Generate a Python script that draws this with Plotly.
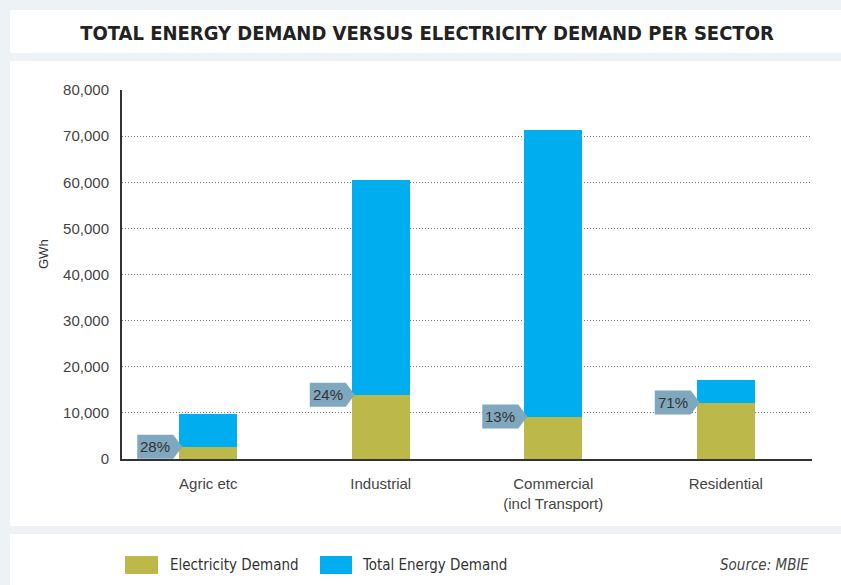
import plotly.graph_objects as go

# ---- data ----
sectors = ["Agric etc", "Industrial", "Commercial<br>(incl Transport)", "Residential"]
total_energy = [9730, 60500, 71300, 17190]
electricity = [2680, 13950, 9200, 12250]
share_labels = ["28%", "24%", "13%", "71%"]
series_names = ["Electricity Demand", "Total Energy Demand"]
series_colors = ["#BDB84A", "#00AEEF"]
y_ticks = [0, 10000, 20000, 30000, 40000, 50000, 60000, 70000, 80000]

# ---- layout constants ----
W, H = 841, 585
L, R, T, B = 122, 29, 90, 126
PW, PH = W - L - R, H - T - B
BAR_W = 0.336
BG = "#EDF2F6"
CALLOUT = "#7FA7BE"
NARROW = "Liberation Sans Narrow, DejaVu Sans Condensed, Arial Narrow, sans-serif"
SANS = "Liberation Sans, Arial, Helvetica, sans-serif"


def px_x(X):
    return (X - L) / PW


def px_y(Y):
    return (H - B - Y) / PH


xs = list(range(len(sectors)))

fig = go.Figure()
fig.add_trace(go.Bar(x=xs, y=total_energy, width=BAR_W, name=series_names[1],
                     marker=dict(color=series_colors[1], line=dict(width=0)),
                     showlegend=False, hoverinfo="y"))
fig.add_trace(go.Bar(x=xs, y=electricity, width=BAR_W, name=series_names[0],
                     marker=dict(color=series_colors[0], line=dict(width=0)),
                     showlegend=False, hoverinfo="y"))

shapes = []
annotations = []

# background panels
for (y0, y1) in [(10, 53), (61, 526), (534, 600)]:
    shapes.append(dict(type="rect", xref="paper", yref="paper", layer="below",
                       x0=px_x(10), x1=px_x(860), y0=px_y(y1), y1=px_y(y0),
                       fillcolor="white", line=dict(width=0)))

# callouts
for i, (v, lab) in enumerate(zip(electricity, share_labels)):
    edge = xs[i] - BAR_W / 2
    shapes.append(dict(type="path", xref="x", yref="y",
                       xsizemode="pixel", ysizemode="pixel",
                       xanchor=edge, yanchor=v, layer="above",
                       path="M-42,-12 L-6,-12 L3,0 L-6,12 L-42,12 Z",
                       fillcolor=CALLOUT, line=dict(width=0)))
    annotations.append(dict(x=edge, y=v, xref="x", yref="y", text=lab,
                            showarrow=False, xshift=-24, xanchor="center",
                            yanchor="middle",
                            font=dict(family=SANS, size=15, color="#333333")))

# y axis title
annotations.append(dict(x=px_x(43), y=px_y(254), xref="paper", yref="paper",
                        text="GWh", textangle=-90, showarrow=False,
                        xanchor="center", yanchor="middle",
                        font=dict(family=SANS, size=13, color="#333333")))

# manual legend
leg_boxes = [(125, 158, 168), (320, 352, 360)]
for (bx0, bx1, tx), name, col in zip(leg_boxes, series_names, series_colors):
    shapes.append(dict(type="rect", xref="paper", yref="paper",
                       x0=px_x(bx0), x1=px_x(bx1), y0=px_y(574), y1=px_y(556),
                       fillcolor=col, line=dict(width=0)))
    annotations.append(dict(x=px_x(tx), y=px_y(565), xref="paper", yref="paper",
                            text=name, showarrow=False, xanchor="left",
                            yanchor="middle",
                            font=dict(family=NARROW, size=15, color="#333333")))

annotations.append(dict(x=px_x(811), y=px_y(565), xref="paper", yref="paper",
                        text="<i>Source: MBIE</i>", showarrow=False,
                        xanchor="right", yanchor="middle",
                        font=dict(family=NARROW, size=15, color="#444444")))

fig.update_layout(
    width=W, height=H,
    margin=dict(l=L, r=R, t=T, b=B),
    paper_bgcolor=BG, plot_bgcolor="white",
    barmode="overlay", bargap=0,
    title=dict(text="TOTAL ENERGY DEMAND VERSUS ELECTRICITY DEMAND PER SECTOR",
               x=427 / W, xref="container", xanchor="center",
               y=1 - 33 / H, yref="container", yanchor="middle",
               font=dict(family=NARROW, size=20, color="#222222", weight=700)),
    shapes=shapes, annotations=annotations,
    showlegend=False,
)
fig.update_xaxes(range=[-0.5, len(sectors) - 0.5], tickvals=xs, ticktext=sectors,
                 showline=True, linecolor="#333333", linewidth=2,
                 showgrid=False, zeroline=False, ticks="",
                 ticklabelstandoff=10,
                 tickfont=dict(family=SANS, size=15, color="#444444"))
fig.update_yaxes(range=[0, 80000], tickvals=y_ticks, tickformat=",",
                 showline=True, linecolor="#333333", linewidth=2,
                 showgrid=True, gridcolor="#777777", gridwidth=1, griddash="1px,2px",
                 zeroline=False, ticks="", ticklabelstandoff=8,
                 tickfont=dict(family=SANS, size=15, color="#444444"))

fig.write_html("out.html")
